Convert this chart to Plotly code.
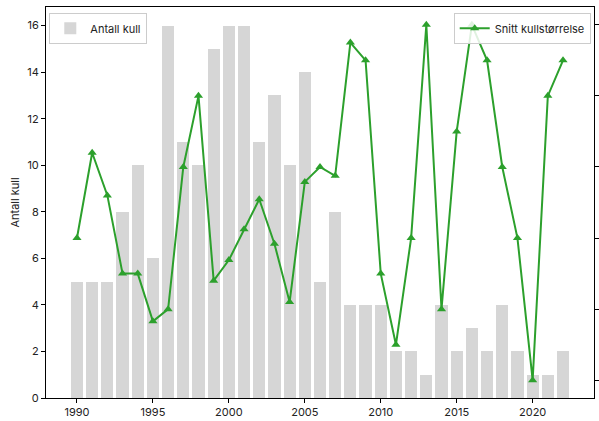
import plotly.graph_objects as go

years = list(range(1990, 2023))
antall_kull = [5, 5, 5, 8, 10, 6, 16, 11, 10, 15, 16, 16, 11, 13, 10, 14,
               5, 8, 4, 4, 4, 2, 2, 1, 4, 2, 3, 2, 4, 2, 1, 1, 2]
snitt_kull = [3.0, 4.2, 3.6, 2.5, 2.5, 1.83, 2.0, 4.0, 5.0, 2.4, 2.69, 3.125,
              3.545, 2.92, 2.1, 3.79, 4.0, 3.875, 5.75, 5.5, 2.5, 1.5, 3.0,
              6.0, 2.0, 4.5, 6.0, 5.5, 4.0, 3.0, 1.0, 5.0, 5.5]
x_ticks = [1990, 1995, 2000, 2005, 2010, 2015, 2020]
left_ticks = [0, 2, 4, 6, 8, 10, 12, 14, 16]
right_ticks = [1, 2, 3, 4, 5, 6]

FONT = "Inter, Roboto, sans-serif"

fig = go.Figure()
fig.add_trace(go.Bar(
    x=years, y=antall_kull, width=0.8, name="Antall kull", showlegend=True,
    marker=dict(color="#d6d6d6", line=dict(width=0)),
    yaxis="y", legend="legend",
))
fig.add_trace(go.Scatter(
    x=years, y=snitt_kull, name="Snitt kullstørrelse", mode="lines+markers",
    showlegend=True,
    line=dict(color="#2ca02c", width=2),
    marker=dict(symbol="triangle-up", size=8, color="#2ca02c"),
    yaxis="y2", legend="legend2",
))

span = (2022.4 - 1989.6)
xr = [1989.6 - 0.05 * span, 2022.4 + 0.05 * span]

axis_common = dict(showline=True, linecolor="black", linewidth=1, ticks="outside",
                   ticklen=4, tickcolor="black", showgrid=False, zeroline=False,
                   automargin=False,
                   tickfont=dict(family=FONT, size=11, color="#222"))

fig.update_layout(
    width=599, height=421,
    margin=dict(l=46, r=5, t=7, b=23, autoexpand=False),
    paper_bgcolor="white", plot_bgcolor="white",
    font=dict(family=FONT, size=11, color="#222"),
    showlegend=True,
    bargap=0,
    xaxis=dict(range=xr, tickvals=x_ticks, mirror=True, **axis_common),
    yaxis=dict(range=[0, 16.8], tickvals=left_ticks,
               title=dict(text="Antall kull", font=dict(family=FONT, size=11, color="#222"), standoff=5),
               **axis_common),
    yaxis2=dict(range=[0.75, 6.25], tickvals=right_ticks, overlaying="y", side="right",
                showticklabels=False, **{k: v for k, v in axis_common.items() if k != "tickfont"}),
    legend=dict(x=0.006, y=0.985, xanchor="left", yanchor="top",
                bordercolor="#cccccc", borderwidth=1, bgcolor="rgba(255,255,255,0.85)",
                font=dict(family=FONT, size=11, color="#222")),
    legend2=dict(x=0.994, y=0.985, xanchor="right", yanchor="top",
                 bordercolor="#cccccc", borderwidth=1, bgcolor="rgba(255,255,255,0.85)",
                 font=dict(family=FONT, size=11, color="#222")),
)

fig.write_html(
    "out.html",
    config={"displayModeBar": False},
    post_script=("document.body.style.margin='0';"
                 "document.body.style.overflow='hidden';"
                 "document.documentElement.style.overflow='hidden';"),
)
